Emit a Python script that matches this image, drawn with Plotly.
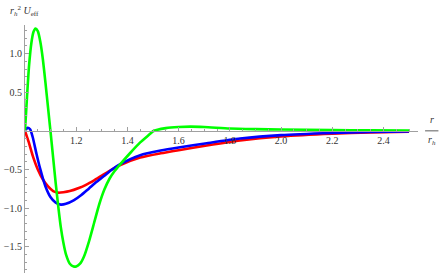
import numpy as np
import plotly.graph_objects as go

# ---- data ----
red_r = [1.00, 1.015, 1.03, 1.05, 1.07, 1.09, 1.11, 1.13, 1.15, 1.175, 1.21, 1.24, 1.27, 1.30, 1.34, 1.37,
         1.45, 1.53, 1.60, 1.71, 1.84, 2.00, 2.20, 2.35, 2.50]
red_v = [0.0, -0.15, -0.32, -0.50, -0.63, -0.72, -0.78, -0.80, -0.795, -0.78, -0.74, -0.695, -0.64, -0.58, -0.50, -0.445,
         -0.345, -0.29, -0.25, -0.19, -0.125, -0.072, -0.036, -0.02, -0.01]

blue_r = [1.00, 1.01, 1.02, 1.03, 1.045, 1.06, 1.08, 1.10, 1.12, 1.14, 1.16, 1.19, 1.22, 1.25, 1.28, 1.31, 1.34, 1.37,
          1.45, 1.53, 1.60, 1.71, 1.84, 2.00, 2.20, 2.35, 2.50]
blue_v = [0.0, 0.04, 0.02, -0.08, -0.30, -0.50, -0.72, -0.86, -0.93, -0.955, -0.945, -0.90, -0.83, -0.745, -0.66, -0.58, -0.50, -0.435,
          -0.315, -0.255, -0.215, -0.16, -0.10, -0.055, -0.028, -0.015, -0.008]

green_r = [1.00, 1.008, 1.016, 1.025, 1.033, 1.041, 1.05, 1.06, 1.07, 1.08, 1.09, 1.10, 1.11, 1.12, 1.13, 1.14,
           1.15, 1.16, 1.175, 1.19, 1.20, 1.215, 1.23, 1.25, 1.27, 1.29, 1.31, 1.33, 1.35, 1.37, 1.41, 1.45,
           1.49, 1.50, 1.55, 1.60, 1.645, 1.70, 1.80, 1.90, 2.00, 2.20, 2.35, 2.50]
green_v = [0.0, 0.45, 0.85, 1.14, 1.28, 1.325, 1.29, 1.15, 0.92, 0.62, 0.30, -0.02, -0.35, -0.68, -0.98, -1.25,
           -1.45, -1.60, -1.72, -1.755, -1.755, -1.72, -1.63, -1.43, -1.19, -0.95, -0.76, -0.62, -0.52, -0.44, -0.29, -0.15,
           -0.035, -0.005, 0.035, 0.05, 0.055, 0.05, 0.03, 0.022, 0.017, 0.01, 0.006, 0.004]

x_ticks = [1.2, 1.4, 1.6, 1.8, 2.0, 2.2, 2.4]
y_ticks = [-1.5, -1.0, -0.5, 0.5, 1.0]

X_RANGE = [1.0, 2.535]
Y_RANGE = [-1.84, 1.37]

fig = go.Figure()
for r, v, c in [(red_r, red_v, "#ff0000"), (blue_r, blue_v, "#0000ff"), (green_r, green_v, "#00ff00")]:
    fig.add_trace(go.Scatter(x=r, y=v, mode="lines",
                             line=dict(color=c, width=2.6, shape="spline", smoothing=0.6),
                             showlegend=False, hoverinfo="skip"))

axis_col = "#a0a0a0"
font_serif = "Times New Roman, Liberation Serif, serif"
txt_col = "#333333"
x_pos = (0 - Y_RANGE[0]) / (Y_RANGE[1] - Y_RANGE[0])

fig.update_layout(
    width=440, height=273,
    margin=dict(l=25, r=22, t=25, b=0, autoexpand=False),
    paper_bgcolor="white", plot_bgcolor="white",
    font=dict(family=font_serif, size=10, color=txt_col),
    xaxis=dict(range=X_RANGE, anchor="free", position=x_pos, automargin=False,
               showgrid=False, zeroline=False, showline=True, linecolor=axis_col, linewidth=1,
               ticks="inside", ticklen=4, tickcolor=axis_col, tickwidth=1,
               tickfont=dict(family=font_serif, size=10, color=txt_col),
               tickmode="array", tickvals=x_ticks, ticktext=[f"{t:.1f}" for t in x_ticks],
               minor=dict(tickmode="array",
                          tickvals=[round(v, 2) for v in np.arange(1.05, 2.53, 0.05)],
                          ticks="inside", ticklen=2, tickcolor=axis_col)),
    yaxis=dict(range=Y_RANGE, showgrid=False, zeroline=False, showline=True, automargin=False,
               linecolor=axis_col, linewidth=1,
               ticks="inside", ticklen=4, tickcolor=axis_col, tickwidth=1,
               tickfont=dict(family=font_serif, size=10, color=txt_col),
               tickmode="array", tickvals=y_ticks,
               ticktext=[f"{t:.1f}".replace("-", "\u2212") for t in y_ticks],
               minor=dict(tickmode="array",
                          tickvals=[round(v, 2) for v in np.arange(-1.8, 1.38, 0.1)],
                          ticks="inside", ticklen=2, tickcolor=axis_col)),
)

# axis labels
fig.add_annotation(xref="paper", yref="paper", x=0.0, xshift=-17, y=1.0, yshift=14, xanchor="left", yanchor="middle",
                   text="<i>r</i><sub><i>h</i></sub><sup>2</sup> <i>U</i><sub>eff</sub>",
                   showarrow=False, font=dict(family=font_serif, size=10, color=txt_col))
fig.add_annotation(xref="paper", yref="paper", x=1.0, xshift=14, y=x_pos, yshift=11,
                   xanchor="center", yanchor="middle", text="<i>r</i>",
                   showarrow=False, font=dict(family=font_serif, size=10, color=txt_col))
fig.add_annotation(xref="paper", yref="paper", x=1.0, xshift=14, y=x_pos, yshift=-10,
                   xanchor="center", yanchor="middle", text="<i>r</i><sub><i>h</i></sub>",
                   showarrow=False, font=dict(family=font_serif, size=10, color=txt_col))
fig.add_shape(type="line", xref="paper", yref="paper", x0=1.018, x1=1.052, y0=x_pos, y1=x_pos,
              line=dict(color=txt_col, width=0.8))

fig.write_html("out.html", config={"displayModeBar": False, "staticPlot": True},
               post_script="document.body.style.margin='0';document.body.style.overflow='hidden';")
